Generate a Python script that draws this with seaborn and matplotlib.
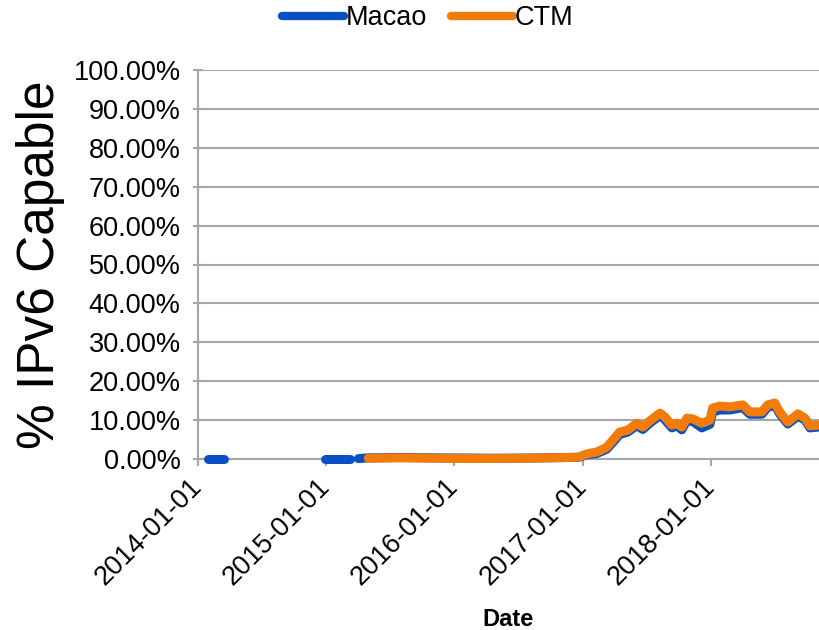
import pandas as pd
import matplotlib
matplotlib.use('Agg')
import matplotlib.pyplot as plt
import matplotlib.dates as mdates
from matplotlib.ticker import PercentFormatter, MultipleLocator
import seaborn as sns

# Macao: three runs of data (gaps between them)
macao_dates = ['2014-01-29', '2014-03-17',
               '2014-12-28', '2015-03-10',
               '2015-04-03', '2015-05-01', '2015-08-01', '2015-11-01', '2016-02-01',
               '2016-05-01', '2016-08-01', '2016-11-25', '2016-12-20', '2017-01-12',
               '2017-02-10', '2017-03-10', '2017-04-02', '2017-04-16', '2017-05-09',
               '2017-06-04', '2017-06-21', '2017-07-11', '2017-08-09', '2017-08-23',
               '2017-09-12', '2017-09-26', '2017-10-10', '2017-10-25', '2017-11-11',
               '2017-12-06', '2017-12-29', '2018-01-06', '2018-01-26', '2018-02-24',
               '2018-04-02', '2018-04-22', '2018-05-26', '2018-06-12', '2018-07-02',
               '2018-07-16', '2018-08-08', '2018-09-06', '2018-09-26', '2018-10-10',
               '2018-11-02']
macao_pct = [0.0, 0.0,
             0.0, 0.0,
             0.1, 0.3, 0.4, 0.3, 0.25, 0.2, 0.25, 0.4, 0.4, 1.1,
             1.4, 2.5, 4.8, 6.3, 6.9, 8.6, 7.6, 9.2, 11.2, 10.1,
             8.0, 8.6, 7.5, 9.9, 9.6, 8.0, 8.9, 12.1, 12.6, 12.6,
             13.2, 11.5, 11.5, 13.3, 13.8, 11.6, 9.0, 11.0, 10.0, 8.0,
             8.2]
macao_seg = [0, 0, 1, 1] + [2] * (len(macao_dates) - 4)

ctm_dates = ['2015-05-01', '2015-08-01', '2015-11-01', '2016-02-01', '2016-05-01',
             '2016-08-01', '2016-11-25', '2016-12-20', '2017-01-12', '2017-02-10',
             '2017-03-10', '2017-04-02', '2017-04-16', '2017-05-09', '2017-06-04',
             '2017-06-21', '2017-07-11', '2017-08-09', '2017-08-23', '2017-09-12',
             '2017-09-26', '2017-10-10', '2017-10-25', '2017-11-11', '2017-12-06',
             '2017-12-29', '2018-01-06', '2018-01-26', '2018-02-24', '2018-04-02',
             '2018-04-22', '2018-05-26', '2018-06-12', '2018-07-02', '2018-07-16',
             '2018-08-08', '2018-09-06', '2018-09-26', '2018-10-10', '2018-11-02']
ctm_pct = [0.2, 0.3, 0.2, 0.15, 0.15, 0.2, 0.4, 0.5, 1.3, 1.8,
           3.0, 5.4, 6.9, 7.4, 9.2, 8.2, 9.8, 11.8, 10.8, 8.7,
           9.2, 8.2, 10.5, 10.3, 9.2, 10.0, 13.1, 13.6, 13.4, 13.9,
           12.1, 12.1, 13.9, 14.4, 12.1, 9.5, 11.6, 10.5, 8.5, 8.7]

year_ticks = ['2014-01-01', '2015-01-01', '2016-01-01', '2017-01-01', '2018-01-01']

BLUE = '#0a50c4'
ORANGE = '#f27c0a'
GRID = '#a6a6a6'

macao = pd.DataFrame({'date': pd.to_datetime(macao_dates), 'pct': macao_pct,
                      'seg': macao_seg})
ctm = pd.DataFrame({'date': pd.to_datetime(ctm_dates), 'pct': ctm_pct})

sns.set_style('white')
plt.rcParams['font.family'] = ['Liberation Sans', 'DejaVu Sans']
plt.rcParams['text.color'] = 'black'
plt.rcParams['axes.labelcolor'] = 'black'

fig = plt.figure(figsize=(8.19, 6.30), dpi=100)
ax = fig.add_axes([198 / 819, 1 - 459 / 630, 1 - 198 / 819, (459 - 70) / 630])

sns.lineplot(data=macao, x='date', y='pct', units='seg', estimator=None,
             color=BLUE, linewidth=6.5, ax=ax,
             solid_capstyle='round', solid_joinstyle='round')
sns.lineplot(data=ctm, x='date', y='pct', color=ORANGE, linewidth=6.5, ax=ax,
             solid_capstyle='round', solid_joinstyle='round')
# lines sit on top of the axis line, like the original
for line in ax.get_lines():
    line.set_clip_on(False)
    line.set_zorder(3)

ax.set_ylim(0, 100)
ax.set_xlim(pd.Timestamp('2014-01-01'), pd.Timestamp('2018-11-05'))
ax.yaxis.set_major_locator(MultipleLocator(10))
ax.yaxis.set_major_formatter(PercentFormatter(xmax=100, decimals=2))
ax.set_xticks(pd.to_datetime(year_ticks))
ax.xaxis.set_major_formatter(mdates.DateFormatter('%Y-%m-%d'))

ax.grid(axis='y', color=GRID, lw=1.5)
ax.set_axisbelow(True)
for side in ['top', 'right']:
    ax.spines[side].set_visible(False)
for side in ['left', 'bottom']:
    ax.spines[side].set_color(GRID)
    ax.spines[side].set_linewidth(1.5)

ax.tick_params(axis='y', direction='inout', length=7, width=1.5, color=GRID,
               labelcolor='black', labelsize=19.5, pad=9, left=True)
ax.tick_params(axis='x', direction='out', length=5, width=1.5, color=GRID,
               labelcolor='black', labelsize=19.5, pad=12, bottom=True)
for lbl in ax.get_xticklabels():
    lbl.set_rotation(45)
    lbl.set_ha('right')
    lbl.set_va('center')
    lbl.set_rotation_mode('anchor')

ax.set_ylabel('% IPv6 Capable', fontsize=37)
ax.yaxis.set_label_coords(-0.214, 0.5)
ax.set_xlabel('Date', fontsize=17, fontweight='bold')
ax.xaxis.set_label_coords(0.5, -0.382)

legend_handles = [plt.Line2D([], [], color=BLUE, lw=6, solid_capstyle='round'),
                  plt.Line2D([], [], color=ORANGE, lw=6, solid_capstyle='round')]
fig.legend(legend_handles, ['Macao', 'CTM'], loc='center',
           bbox_to_anchor=(0.522, 0.971), ncol=2, frameon=False, fontsize=19.5,
           handlelength=2.3, handletextpad=0.05, columnspacing=0.9)

fig.savefig('out.png', dpi=100)
